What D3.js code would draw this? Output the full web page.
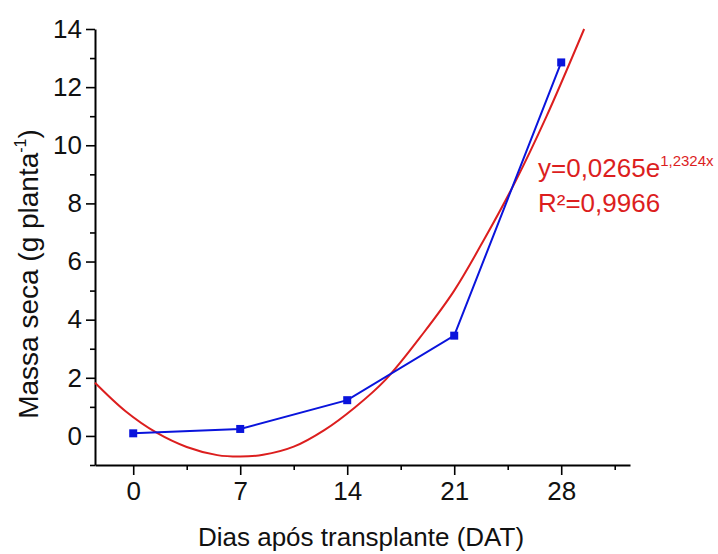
<!DOCTYPE html>
<html>
<head>
<meta charset="utf-8">
<script src="https://cdn.jsdelivr.net/npm/d3@7"></script>
<style>
  html, body { margin: 0; padding: 0; background: #fff; }
  svg { display: block; }
  text { font-family: "Liberation Sans", Arial, sans-serif; }
</style>
</head>
<body>
<svg id="chart" width="718" height="554"></svg>
<script>
// ---- data ----
const days = [0, 7, 14, 21, 28];
const massa = [0.09, 0.24, 1.23, 3.45, 12.85];

// fitted curve
const fitX = [-2.5, -0.5, 1.5, 3.5, 5.5, 7, 8.5, 10.5, 12.5, 14.5, 16.5, 19, 21, 23, 25, 27, 29.5];
const fitY = [1.83, 0.85, 0.12, -0.38, -0.66, -0.71, -0.65, -0.37, 0.2, 0.98, 1.93, 3.55, 5.0, 6.8, 8.75, 10.95, 14.0];

const xTicks = [0, 7, 14, 21, 28];
const xMinor = [3.5, 10.5, 17.5, 24.5, 31.5];
const yTicks = [0, 2, 4, 6, 8, 10, 12, 14];
const yMinor = [-1, 1, 3, 5, 7, 9, 11, 13];

const xTitle = "Dias após transplante (DAT)";
const eqMain = "y=0,0265e";
const eqExp = "1,2324x";
const r2Text = "R²=0,9966";

// ---- layout ----
const svg = d3.select("#chart");
const mLeft = 95, mRight = 630, mTop = 29, mBottom = 465;
const x = d3.scaleLinear().domain([-2.5, 32.5]).range([mLeft, mRight]);
const y = d3.scaleLinear().domain([-1, 14]).range([mBottom, mTop]);

const blue = "#0a14dc";
const red = "#dc1e1e";
const fs = 26;

// axes
svg.append("g").attr("transform", `translate(${mLeft},0)`)
  .call(d3.axisLeft(y).tickValues(yTicks).tickSize(9).tickSizeOuter(0).tickPadding(4).tickFormat(d3.format("d")));
svg.append("g").attr("transform", `translate(${mLeft},0)`)
  .call(d3.axisLeft(y).tickValues(yMinor).tickSize(5).tickSizeOuter(0).tickFormat(""))
  .select(".domain").remove();

svg.append("g").attr("transform", `translate(0,${mBottom})`)
  .call(d3.axisBottom(x).tickValues(xTicks).tickSize(10).tickSizeOuter(0).tickPadding(7).tickFormat(d3.format("d")));
svg.append("g").attr("transform", `translate(0,${mBottom})`)
  .call(d3.axisBottom(x).tickValues(xMinor).tickSize(5).tickSizeOuter(0).tickFormat(""))
  .select(".domain").remove();

svg.selectAll(".domain").attr("stroke", "#000").attr("stroke-width", 2);
svg.selectAll(".tick line").attr("stroke", "#000").attr("stroke-width", 1.6);
svg.selectAll(".tick text").attr("font-size", fs).attr("fill", "#111")
  .style("font-family", "'Liberation Sans', Arial, sans-serif");

// fitted curve
const fitData = fitX.map((d, i) => [d, fitY[i]]);
svg.append("path")
  .datum(fitData)
  .attr("fill", "none")
  .attr("stroke", red)
  .attr("stroke-width", 2)
  .attr("d", d3.line().x(d => x(d[0])).y(d => y(d[1])).curve(d3.curveCatmullRom));

// data line
const pts = days.map((d, i) => [d, massa[i]]);
svg.append("path")
  .datum(pts)
  .attr("fill", "none")
  .attr("stroke", blue)
  .attr("stroke-width", 2)
  .attr("d", d3.line().x(d => x(d[0])).y(d => y(d[1])));

svg.selectAll("rect.pt").data(pts).enter().append("rect")
  .attr("class", "pt")
  .attr("x", d => x(d[0]) - 4)
  .attr("y", d => y(d[1]) - 4)
  .attr("width", 8).attr("height", 8)
  .attr("fill", blue);

// titles
svg.append("text")
  .attr("x", 361).attr("y", 546)
  .attr("text-anchor", "middle")
  .attr("font-size", fs).attr("fill", "#111")
  .text(xTitle);

const yt = svg.append("text")
  .attr("transform", "translate(38,274) rotate(-90)")
  .attr("text-anchor", "middle")
  .attr("font-size", 28).attr("fill", "#111");
yt.append("tspan").text("Massa seca (g planta");
yt.append("tspan").attr("font-size", 16).attr("dy", -12).text("-1");
yt.append("tspan").attr("dy", 12).text(")");

// equation
const eq = svg.append("text")
  .attr("x", 538).attr("y", 177)
  .attr("font-size", fs).attr("fill", red);
eq.append("tspan").text(eqMain);
eq.append("tspan").attr("font-size", 15).attr("dy", -11).text(eqExp);

svg.append("text")
  .attr("x", 538).attr("y", 212)
  .attr("font-size", fs).attr("fill", red)
  .text(r2Text);
</script>
</body>
</html>
